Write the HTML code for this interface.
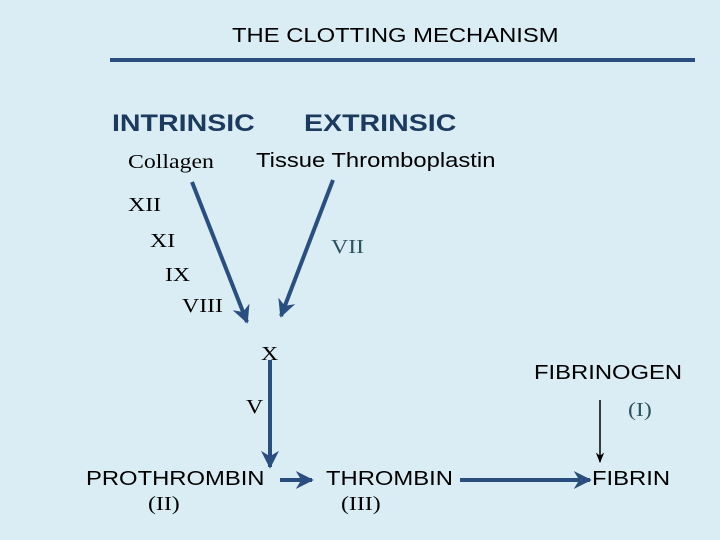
<!DOCTYPE html>
<html><head><style>
body{margin:0;width:720px;height:540px;background:#dbedf4;overflow:hidden;position:relative}
.t{position:absolute;white-space:nowrap;color:#000;transform:scaleX(1.19);transform-origin:0 0}
.s{font-family:"Liberation Sans",sans-serif}
.r{font-family:"Liberation Serif",serif}
</style></head><body>
<svg width="720" height="540" style="position:absolute;left:0;top:0">
<defs>
<marker id="a" viewBox="0 0 10 10" refX="9" refY="5" markerWidth="4.5" markerHeight="4.5" orient="auto"><path d="M0,0L10,5L0,10L3,5z" fill="#2a4f7f"/></marker>
<marker id="b" viewBox="0 0 10 10" refX="9" refY="5" markerWidth="7" markerHeight="7" orient="auto"><path d="M0,1L10,5L0,9L3,5z" fill="#000"/></marker>
</defs>
<line x1="110" y1="60" x2="695" y2="60" stroke="#2a4f7f" stroke-width="4"/>
<g stroke="#2a4f7f" stroke-width="4" marker-end="url(#a)">
<line x1="192" y1="182" x2="247" y2="322"/>
<line x1="333" y1="180" x2="281" y2="316"/>
<line x1="270" y1="360" x2="270" y2="467"/>
<line x1="280" y1="480" x2="312" y2="480"/>
<line x1="460" y1="480" x2="590" y2="480"/>
</g>
<line x1="600" y1="400" x2="600" y2="462" stroke="#000" stroke-width="1.5" marker-end="url(#b)"/>
</svg>
<div class="t s" style="left:232px;top:25px;font-size:20px">THE CLOTTING MECHANISM</div>
<div class="t s" style="left:112px;top:110px;font-size:24px;font-weight:bold;color:#1c3a5e">INTRINSIC</div>
<div class="t s" style="left:304px;top:110px;font-size:24px;font-weight:bold;color:#1c3a5e">EXTRINSIC</div>
<div class="t r" style="left:128px;top:151px;font-size:20px">Collagen</div>
<div class="t s" style="left:256px;top:150px;font-size:20px">Tissue Thromboplastin</div>
<div class="t r" style="left:128px;top:194px;font-size:20px">XII</div>
<div class="t r" style="left:150px;top:230px;font-size:20px">XI</div>
<div class="t r" style="left:331px;top:236px;font-size:20px;color:#2c5360">VII</div>
<div class="t r" style="left:165px;top:264px;font-size:20px">IX</div>
<div class="t r" style="left:182px;top:295px;font-size:20px">VIII</div>
<div class="t r" style="left:261px;top:343px;font-size:20px">X</div>
<div class="t s" style="left:534px;top:362px;font-size:20px">FIBRINOGEN</div>
<div class="t r" style="left:246px;top:396px;font-size:20px">V</div>
<div class="t r" style="left:628px;top:399px;font-size:20px;color:#2c5360">(I)</div>
<div class="t s" style="left:86px;top:468px;font-size:20px">PROTHROMBIN</div>
<div class="t r" style="left:148px;top:493px;font-size:20px">(II)</div>
<div class="t s" style="left:326px;top:468px;font-size:20px">THROMBIN</div>
<div class="t r" style="left:341px;top:493px;font-size:20px">(III)</div>
<div class="t s" style="left:592px;top:468px;font-size:20px">FIBRIN</div>
</body></html>
